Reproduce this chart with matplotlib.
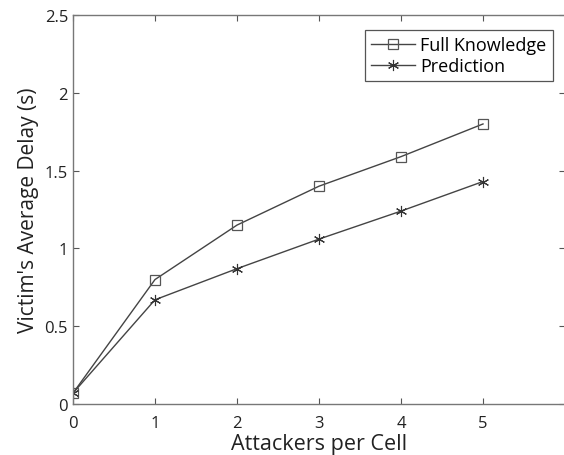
import matplotlib.pyplot as plt

# data
attackers = [0, 1, 2, 3, 4, 5]
full_knowledge = [0.07, 0.80, 1.15, 1.40, 1.59, 1.80]
prediction = [0.07, 0.67, 0.87, 1.06, 1.24, 1.43]

plt.rcParams['font.family'] = ['Open Sans', 'DejaVu Sans']

fig = plt.figure(figsize=(5.64, 4.56), dpi=100)
ax = fig.add_axes([0.1294, 0.1118, 0.8724, 0.853])

ax.plot(attackers, full_knowledge, color="#444444", linewidth=1.0,
        marker="s", markersize=7, markerfacecolor="none",
        markeredgecolor="#555555", markeredgewidth=0.9, label="Full Knowledge")
# MATLAB-style asterisk marker
ax.plot(attackers, prediction, color="#444444", linewidth=1.0,
        marker=(6, 2, 0), markersize=8,
        markeredgecolor="#333333", markeredgewidth=0.8, label="Prediction")

ax.set_xlim(0, 6)
ax.set_ylim(0, 2.5)
ax.set_xticks([0, 1, 2, 3, 4, 5])
ax.set_yticks([0, 0.5, 1, 1.5, 2, 2.5])
ax.set_yticklabels(["0", "0.5", "1", "1.5", "2", "2.5"])

ax.tick_params(direction="in", length=4, width=0.8, colors="#555555",
               labelcolor="#222222", labelsize=12, top=True, right=True)
ax.tick_params(axis="x", pad=8)
for s in ax.spines.values():
    s.set_color("#777777")
    s.set_linewidth(1.0)

ax.set_xlabel("Attackers per Cell", fontsize=15.5, color="#222222", labelpad=1)
ax.set_ylabel("Victim's Average Delay (s)", fontsize=15, color="#222222", labelpad=4)

leg = ax.legend(loc="upper right", bbox_to_anchor=(0.993, 0.985), fontsize=13,
                fancybox=False, edgecolor="#555555", framealpha=1,
                handlelength=2.4, handletextpad=0.3, borderpad=0.35,
                labelspacing=0.15)
leg.get_frame().set_linewidth(0.9)

fig.savefig("out.png", dpi=100)
